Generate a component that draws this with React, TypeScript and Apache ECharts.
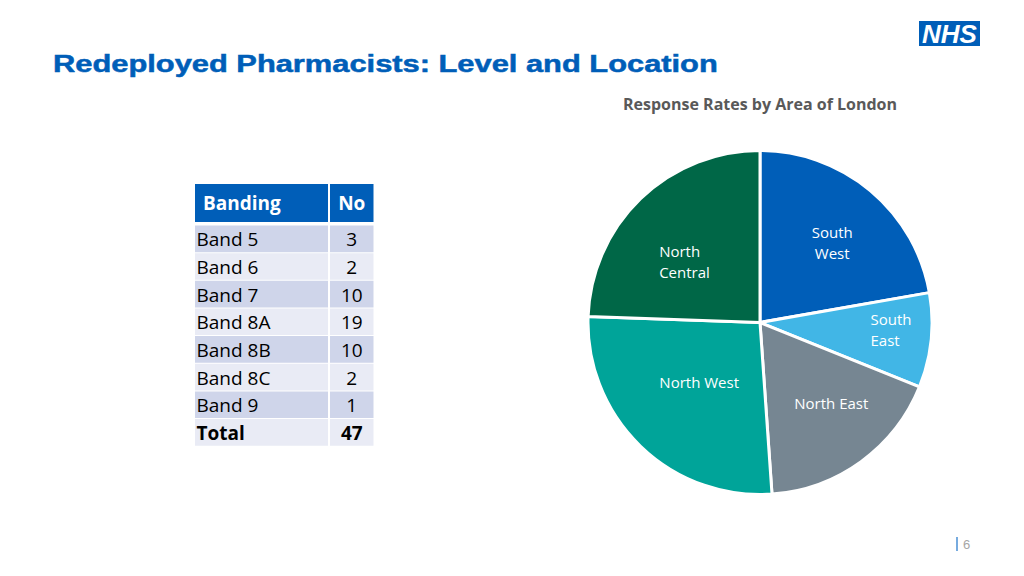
import React, { useEffect, useRef } from 'react';
import * as echarts from 'echarts';

// ---- Data ----
const titleText = 'Redeployed Pharmacists: Level and Location';
const pieTitle = 'Response Rates by Area of London';
const pageNumber = '6';

const areaNames = ['South West', 'South East', 'North East', 'North West', 'North Central'];
const areaLabels = ['South\nWest', 'South\nEast', 'North East', 'North West', 'North\nCentral'];
const areaValues = [10, 4, 8, 12, 11];

const tableHeaders = ['Banding', 'No'];
const bandLabels = ['Band 5', 'Band 6', 'Band 7', 'Band 8A', 'Band 8B', 'Band 8C', 'Band 9'];
const bandCounts = [3, 2, 10, 19, 10, 2, 1];
const totalLabel = 'Total';

// ---- Styles ----
const areaColors = ['#005EB8', '#41B6E6', '#768692', '#00A499', '#006747'];
const labelNudge = [
  { dx: 15, dy: -12, align: 'center' },
  { dx: 22, dy: -2, align: 'left' },
  { dx: 19, dy: 8, align: 'center' },
  { dx: 1, dy: -5, align: 'center' },
  { dx: -39, dy: 3, align: 'left' },
];
const NHS_BLUE = '#005EB8';
const ROW_DARK = '#CFD5EA';
const ROW_LIGHT = '#E9EBF5';
const TABLE_FONT = '"Open Sans", "Noto Sans", sans-serif';

function buildTable(): any[] {
  const T = { x: 195, y: 184, w1: 133, w2: 43.5, gapX: 2, headH: 38, bodyY: 225.5, pitch: 27.65, rowH: 26.65 };
  const xR = T.x + T.w1 + T.gapX;
  const els: any[] = [];
  els.push({ type: 'rect', shape: { x: T.x, y: T.y, width: T.w1, height: T.headH }, style: { fill: NHS_BLUE } });
  els.push({ type: 'rect', shape: { x: xR, y: T.y, width: T.w2, height: T.headH }, style: { fill: NHS_BLUE } });
  els.push({
    type: 'text', x: T.x + 8, y: T.y + T.headH / 2,
    style: { text: tableHeaders[0], fill: '#fff', font: `bold 19px ${TABLE_FONT}`, align: 'left', verticalAlign: 'middle' },
  });
  els.push({
    type: 'text', x: xR + T.w2 / 2, y: T.y + T.headH / 2,
    style: { text: tableHeaders[1], fill: '#fff', font: `bold 19px ${TABLE_FONT}`, align: 'center', verticalAlign: 'middle' },
  });
  const total = bandCounts.reduce((a, b) => a + b, 0);
  const rows = bandLabels.map((b, i) => ({ label: b, value: String(bandCounts[i]), bold: false }));
  rows.push({ label: totalLabel, value: String(total), bold: true });
  rows.forEach((r, i) => {
    const y = T.bodyY + i * T.pitch;
    const fill = i % 2 === 0 ? ROW_DARK : ROW_LIGHT;
    const font = `${r.bold ? 'bold ' : ''}19px ${TABLE_FONT}`;
    els.push({ type: 'rect', shape: { x: T.x, y, width: T.w1, height: T.rowH }, style: { fill } });
    els.push({ type: 'rect', shape: { x: xR, y, width: T.w2, height: T.rowH }, style: { fill } });
    els.push({
      type: 'text', x: T.x + 1.5, y: y + T.rowH / 2 + 0.5,
      style: { text: r.label, fill: '#000', font, align: 'left', verticalAlign: 'middle' },
    });
    els.push({
      type: 'text', x: xR + T.w2 / 2, y: y + T.rowH / 2 + 0.5,
      style: { text: r.value, fill: '#000', font, align: 'center', verticalAlign: 'middle' },
    });
  });
  return els;
}

export default function App() {
  const ref = useRef<HTMLDivElement>(null);
  useEffect(() => {
    if (!ref.current) return;
    const chart = echarts.init(ref.current, undefined, { renderer: 'svg' });
    const option: any = {
      animation: false,
      backgroundColor: '#ffffff',
      graphic: [
        {
          type: 'text', x: 53, y: 63.5, scaleX: 1.285,
          style: {
            text: titleText, fill: NHS_BLUE, stroke: NHS_BLUE, lineWidth: 0.5,
            font: 'bold 24px "Liberation Sans", Arial, sans-serif', align: 'left', verticalAlign: 'middle',
          },
        },
        { type: 'rect', shape: { x: 919, y: 21, width: 61, height: 25 }, style: { fill: NHS_BLUE } },
        {
          type: 'text', x: 949.5, y: 34,
          style: { text: 'NHS', fill: '#fff', font: 'italic bold 26px "Liberation Sans", Arial, sans-serif', align: 'center', verticalAlign: 'middle' },
        },
        {
          type: 'text', x: 760, y: 103.5,
          style: { text: pieTitle, fill: '#595959', font: `bold 16px ${TABLE_FONT}`, align: 'center', verticalAlign: 'middle' },
        },
        { type: 'line', shape: { x1: 957, y1: 537, x2: 957, y2: 551 }, style: { stroke: '#4A8FD4', lineWidth: 1.5 } },
        {
          type: 'text', x: 963, y: 544,
          style: { text: pageNumber, fill: '#A6A6A6', font: '13px "Liberation Sans", Arial, sans-serif', align: 'left', verticalAlign: 'middle' },
        },
        ...buildTable(),
      ],
      series: [
        {
          type: 'pie',
          center: [760, 322.5],
          radius: 172,
          startAngle: 90,
          clockwise: true,
          avoidLabelOverlap: false,
          itemStyle: { borderColor: '#ffffff', borderWidth: 3 },
          label: {
            show: true,
            position: 'inside',
            color: '#ffffff',
            fontFamily: TABLE_FONT,
            fontSize: 15,
            lineHeight: 21,
            formatter: (p: any) => areaLabels[p.dataIndex],
          },
          labelLine: { show: false },
          labelLayout: (p: any) => labelNudge[p.dataIndex],
          emphasis: { disabled: true },
          data: areaNames.map((n, i) => ({ name: n, value: areaValues[i], itemStyle: { color: areaColors[i] } })),
        },
      ],
    };
    chart.setOption(option);
    return () => chart.dispose();
  }, []);
  return <div ref={ref} style={{ position: 'fixed', left: 0, top: 0, width: 1024, height: 576, background: '#fff' }} />;
}
